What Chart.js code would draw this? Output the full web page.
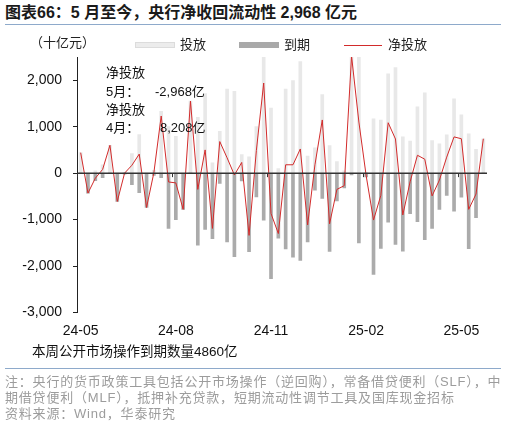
<!DOCTYPE html>
<html>
<head>
<meta charset="utf-8">
<script src="https://cdn.jsdelivr.net/npm/chart.js@4.4.1/dist/chart.umd.min.js"></script>
<style>
  body { margin:0; width:507px; height:432px; background:#fff; position:relative; overflow:hidden;
         font-family:"Liberation Sans","Noto Sans CJK SC",sans-serif; }
  .abs { position:absolute; white-space:nowrap; line-height:16px; }
  #title { left:5px; top:4px; font-size:16px; line-height:18px; font-weight:bold; color:#1a1a1a; }
  .rule { position:absolute; left:5px; width:496px; height:1px; background:#8eaacb; }
  #chart { position:absolute; left:0; top:0; }
  .note { color:#9c9c9c; font-size:13px; letter-spacing:0.8px; }
  .box { position:absolute; height:6px; width:40px; }
</style>
</head>
<body>
<div id="title" class="abs">图表66：5 月至今，央行净收回流动性 2,968 亿元</div>
<div class="rule" style="top:24px"></div>

<canvas id="chart" width="507" height="345"></canvas>

<div class="abs" style="left:30px;top:35px;font-size:13px;color:#222">（十亿元）</div>

<div class="box" style="left:135px;top:42px;background:#ececec;border:1px solid #dcdcdc;width:38px;height:4px"></div>
<div class="abs" style="left:180px;top:37px;font-size:13px;color:#222">投放</div>
<div class="box" style="left:239px;top:42px;background:#a9a9a9"></div>
<div class="abs" style="left:284px;top:37px;font-size:13px;color:#222">到期</div>
<div class="box" style="left:344px;top:45px;height:1px;width:38px;background:#d22b2b"></div>
<div class="abs" style="left:388px;top:37px;font-size:13px;color:#222">净投放</div>

<div class="abs" style="left:106px;top:65px;font-size:13px;color:#111">净投放</div>
<div class="abs" style="left:106px;top:84px;font-size:13px;color:#111">5月：</div>
<div class="abs" style="left:155px;top:84px;font-size:13px;color:#111">-2,968亿</div>
<div class="abs" style="left:106px;top:102px;font-size:13px;color:#111">净投放</div>
<div class="abs" style="left:106px;top:120px;font-size:13px;color:#111">4月：</div>
<div class="abs" style="left:160px;top:120px;font-size:13px;color:#111">8,208亿</div>

<div class="abs" style="left:32px;top:344px;font-size:13.5px;color:#111">本周公开市场操作到期数量4860亿</div>
<div class="rule" style="top:368px"></div>
<div class="abs note" style="left:5px;top:374px">注：央行的货币政策工具包括公开市场操作（逆回购），常备借贷便利（SLF），中</div>
<div class="abs note" style="left:5px;top:390px">期借贷便利（MLF），抵押补充贷款，短期流动性调节工具及国库现金招标</div>
<div class="abs note" style="left:5px;top:406px">资料来源：Wind，华泰研究</div>

<script>
// weekly observations (week ending)
const weeks = [
  '2024-05-03','2024-05-10','2024-05-17','2024-05-24','2024-05-31','2024-06-07','2024-06-14','2024-06-21',
  '2024-06-28','2024-07-05','2024-07-12','2024-07-19','2024-07-26','2024-08-02','2024-08-09','2024-08-16',
  '2024-08-23','2024-08-30','2024-09-06','2024-09-13','2024-09-20','2024-09-27','2024-10-04','2024-10-11',
  '2024-10-18','2024-10-25','2024-11-01','2024-11-08','2024-11-15','2024-11-22','2024-11-29','2024-12-06',
  '2024-12-13','2024-12-20','2024-12-27','2025-01-03','2025-01-10','2025-01-17','2025-01-24','2025-01-31',
  '2025-02-07','2025-02-14','2025-02-21','2025-02-28','2025-03-07','2025-03-14','2025-03-21','2025-03-28',
  '2025-04-04','2025-04-11','2025-04-18','2025-04-25','2025-05-02','2025-05-09','2025-05-16','2025-05-23'
];
const tickIdx = [0, 13, 26, 39, 52];
const tickText = ['24-05', '24-08', '24-11', '25-02', '25-05'];
const yTicks = [-3000, -2000, -1000, 0, 1000, 2000];

// 十亿元
const injection = [
  440, 0, 50, 180, 600, 0, 20, 420, 830, 0, 60, 1330, 1000, 790,
  0, 1550, 1200, 1710, 220, 900, 1810, 1760, 400, 350, 1000, 2950, 1400, 100,
  1810, 1990, 2400, 365, 545, 1690, 595, 250, 50, 2560, 2600, 20, 1170, 1140,
  2140, 2270, 780, 690, 1430, 1730, 700, 630, 825, 1600, 1255, 845, 510, 740
];
const maturity = [
  0, -430, -160, -100, 0, -610, -20, -250, -420, -740, -50, -100, -1190, -1000,
  -780, 0, -1550, -1210, -1410, -220, -1480, -1800, -170, -1690, -510, -1010, -2270, -1400,
  -1630, -1810, -1880, -1480, -365, -545, -1685, -600, -320, -40, -1500, -80, -2180, -1620,
  -1055, -1535, -1680, -875, -1045, -1430, -1190, -780, -480, -820, -515, -1625, -960, 0
];
const netInjection = [
  440, -430, -110, 80, 600, -610, 0, 170, 410, -740, 10, 1230, -190, -210,
  -780, 1550, -350, 500, -1190, 680, 330, -40, 230, -1340, 490, 1940, -870, -1300,
  180, 180, 520, -1115, 180, 1145, -1090, -350, -270, 2520, 1100, -60, -1010, -480,
  1085, 735, -900, -185, 385, 300, -490, -150, 345, 780, 740, -780, -450, 740
];

const zeroLine = {
  id: 'zeroLine',
  afterDatasetsDraw(chart) {
    const { ctx, chartArea, scales } = chart;
    const y = scales.y.getPixelForValue(0);
    ctx.save();
    ctx.strokeStyle = '#333';
    ctx.lineWidth = 1.5;
    ctx.beginPath();
    ctx.moveTo(chartArea.left, y);
    ctx.lineTo(chartArea.right, y);
    ctx.stroke();
    // small category ticks on the zero line
    const half = (scales.x.getPixelForValue(1) - scales.x.getPixelForValue(0)) / 2;
    ctx.lineWidth = 1;
    tickIdx.forEach(i => {
      const x = Math.round(scales.x.getPixelForValue(i) - half) + 0.5;
      ctx.beginPath();
      ctx.moveTo(x, y);
      ctx.lineTo(x, y + 4);
      ctx.stroke();
    });
    ctx.restore();
  }
};

new Chart(document.getElementById('chart'), {
  type: 'bar',
  data: {
    labels: weeks,
    datasets: [
      {
        type: 'line',
        label: '净投放',
        data: netInjection,
        borderColor: '#d22b2b',
        borderWidth: 1,
        pointRadius: 0,
        tension: 0,
        order: 0
      },
      {
        label: '到期',
        data: maturity,
        backgroundColor: '#ababab',
        barThickness: 3,
        grouped: false,
        order: 1
      },
      {
        label: '投放',
        data: injection,
        backgroundColor: '#e8e8e8',
        barThickness: 3,
        grouped: false,
        order: 2
      }
    ]
  },
  options: {
    responsive: false,
    animation: false,
    layout: { padding: { top: 57, right: 20, left: 0, bottom: 2.5 } },
    plugins: {
      legend: { display: false },
      tooltip: { enabled: false }
    },
    scales: {
      x: {
        grid: { display: false, drawTicks: false },
        border: { display: false },
        afterFit: s => { s.height = 30; },
        ticks: {
          autoSkip: false,
          maxRotation: 0,
          padding: 10,
          color: '#111',
          font: { family: 'Liberation Sans', size: 14 },
          callback: (v, i) => {
            const k = tickIdx.indexOf(i);
            return k >= 0 ? tickText[k] : '';
          }
        }
      },
      y: {
        min: -3000,
        max: 2500,
        afterFit: s => { s.width = 77; },
        afterBuildTicks: s => { s.ticks = yTicks.map(v => ({ value: v })); },
        grid: { drawOnChartArea: false, drawTicks: true, tickLength: 4, color: '#222' },
        border: { display: true, color: '#222', width: 1 },
        ticks: {
          padding: 11,
          color: '#111',
          font: { family: 'Liberation Sans', size: 14 },
          callback: v => v.toLocaleString('en-US')
        }
      }
    }
  },
  plugins: [zeroLine]
});
</script>
</body>
</html>
